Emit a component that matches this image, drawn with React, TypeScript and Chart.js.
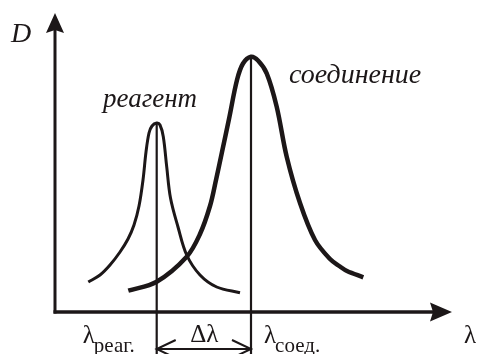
import React, { useEffect, useRef } from "react";
import { Chart, registerables } from "chart.js";

Chart.register(...registerables);

// Absorption bands (wavelength, optical density) of the reagent and of the compound
const lambdaReagent = [33.3, 45, 55, 65, 73, 79, 84, 88, 91, 94, 97, 101.7, 105, 108.3, 111.7, 115.5, 123, 131.7, 145, 161.7, 185];
const dReagent = [30, 37, 47, 60, 73, 87, 106, 132, 160, 179, 186, 189, 187, 175.3, 145.3, 114, 85, 57, 37, 25, 19.3];

const lambdaCompound = [73.3, 101.7, 131.7, 145, 155, 161, 167, 174, 182, 188, 196, 203, 211.7, 221.7, 231.7, 245, 260, 275, 285, 292, 308.3];
const dCompound = [21.3, 30.3, 55.3, 78, 106, 132, 160, 193, 232, 248.5, 255.3, 251.5, 238.7, 205.3, 155.3, 109, 72, 53, 45.5, 41, 34.7];

// Axis extents in the same units
const lambdaAxisEnd = 397;
const dAxisEnd = 299;

const INK = "#1c1718";
const SERIF = "'Liberation Serif', serif";

const toPoints = (xs: number[], ys: number[]) => xs.map((x, i) => ({ x, y: ys[i] }));
const peakOf = (xs: number[], ys: number[]) => {
  const i = ys.indexOf(Math.max(...ys));
  return { x: xs[i], y: ys[i] };
};

const reagentPeak = peakOf(lambdaReagent, dReagent);
const compoundPeak = peakOf(lambdaCompound, dCompound);

const diagramPlugin = {
  id: "diagram",
  beforeDatasetsDraw(chart: any) {
    const { ctx, scales } = chart;
    const sx = scales.x;
    const sy = scales.y;
    const ox = sx.getPixelForValue(0);
    const oy = sy.getPixelForValue(0);
    const xEnd = sx.getPixelForValue(lambdaAxisEnd);
    const yEnd = sy.getPixelForValue(dAxisEnd);
    ctx.save();
    ctx.strokeStyle = INK;
    ctx.fillStyle = INK;
    ctx.lineWidth = 3.5;
    ctx.lineCap = "butt";
    // horizontal axis
    ctx.beginPath();
    ctx.moveTo(ox - 1.5, oy);
    ctx.lineTo(xEnd - 15, oy);
    ctx.stroke();
    ctx.beginPath();
    ctx.moveTo(xEnd, oy);
    ctx.lineTo(xEnd - 22, oy - 9.5);
    ctx.lineTo(xEnd - 19, oy);
    ctx.lineTo(xEnd - 22, oy + 9.5);
    ctx.closePath();
    ctx.fill();
    // vertical axis
    ctx.lineWidth = 3;
    ctx.beginPath();
    ctx.moveTo(ox, oy + 1.5);
    ctx.lineTo(ox, yEnd + 15);
    ctx.stroke();
    ctx.beginPath();
    ctx.moveTo(ox, yEnd);
    ctx.lineTo(ox - 9, yEnd + 20);
    ctx.lineTo(ox, yEnd + 17);
    ctx.lineTo(ox + 9, yEnd + 20);
    ctx.closePath();
    ctx.fill();
    ctx.restore();
  },
  afterDatasetsDraw(chart: any) {
    const { ctx, scales } = chart;
    const sx = scales.x;
    const sy = scales.y;
    const xR = sx.getPixelForValue(reagentPeak.x);
    const xC = sx.getPixelForValue(compoundPeak.x);
    ctx.save();
    ctx.fillStyle = INK;
    ctx.strokeStyle = INK;
    ctx.textBaseline = "alphabetic";
    ctx.textAlign = "left";

    // curve labels
    ctx.font = `italic 28px ${SERIF}`;
    ctx.fillText("D", 11, 42);
    ctx.font = `italic 27px ${SERIF}`;
    ctx.fillText("реагент", 103, 107);
    ctx.font = `italic 28px ${SERIF}`;
    ctx.fillText("соединение", 289, 83);

    // wavelength labels
    const drawLambda = (x: number, sub: string) => {
      ctx.font = `25px ${SERIF}`;
      ctx.fillText("λ", x, 343);
      const w = ctx.measureText("λ").width;
      if (sub) {
        ctx.font = `21px ${SERIF}`;
        ctx.fillText(sub, x + w - 1, 352);
      }
    };
    drawLambda(xR - 74, "реаг.");
    drawLambda(xC + 13, "соед.");
    drawLambda(sx.getPixelForValue(lambdaAxisEnd) + 12, "");

    ctx.font = `25px ${SERIF}`;
    ctx.textAlign = "center";
    ctx.fillText("Δλ", (xR + xC) / 2 + 0.5, 342);

    // double-headed arrow between the band maxima
    const ya = sy.getPixelForValue(-37);
    ctx.lineWidth = 2;
    ctx.beginPath();
    ctx.moveTo(xR, ya);
    ctx.lineTo(xC, ya);
    ctx.moveTo(xR + 19, ya - 9);
    ctx.lineTo(xR, ya);
    ctx.lineTo(xR + 19, ya + 9);
    ctx.moveTo(xC - 19, ya - 9);
    ctx.lineTo(xC, ya);
    ctx.lineTo(xC - 19, ya + 9);
    ctx.stroke();
    ctx.restore();
  },
};

export default function App() {
  const canvasRef = useRef<HTMLCanvasElement | null>(null);

  useEffect(() => {
    if (!canvasRef.current) return;
    const chart = new Chart(canvasRef.current, {
      type: "scatter",
      data: {
        datasets: [
          {
            label: "реагент",
            data: toPoints(lambdaReagent, dReagent),
            showLine: true,
            borderColor: INK,
            borderWidth: 3,
            pointRadius: 0,
            tension: 0.35,
            clip: false,
          },
          {
            label: "соединение",
            data: toPoints(lambdaCompound, dCompound),
            showLine: true,
            borderColor: INK,
            borderWidth: 4.5,
            pointRadius: 0,
            tension: 0.35,
            clip: false,
          },
          {
            label: "λ реаг.",
            data: [reagentPeak, { x: reagentPeak.x, y: -42 }],
            showLine: true,
            borderColor: INK,
            borderWidth: 2.2,
            pointRadius: 0,
            clip: false,
          },
          {
            label: "λ соед.",
            data: [compoundPeak, { x: compoundPeak.x, y: -42 }],
            showLine: true,
            borderColor: INK,
            borderWidth: 2.2,
            pointRadius: 0,
            clip: false,
          },
        ],
      } as any,
      options: {
        animation: false,
        responsive: false,
        devicePixelRatio: 1,
        layout: { padding: 0 },
        plugins: {
          legend: { display: false },
          tooltip: { enabled: false },
        },
        scales: {
          x: { type: "linear", min: -55, max: 422, display: false },
          y: { type: "linear", min: -42, max: 312, display: false },
        },
      },
      plugins: [diagramPlugin],
    });

    return () => {
      chart.destroy();
    };
  }, []);

  return (
    <div style={{ position: "absolute", left: 0, top: 0, width: 477, height: 354, background: "#fff" }}>
      <canvas ref={canvasRef} width={477} height={354} style={{ display: "block" }} />
    </div>
  );
}
